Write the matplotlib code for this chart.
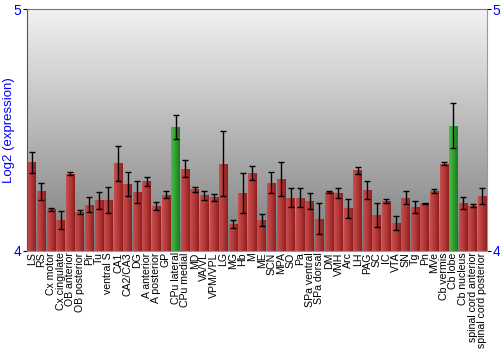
import numpy as np
import matplotlib
matplotlib.use('Agg')
import matplotlib.pyplot as plt
from matplotlib.colors import LinearSegmentedColormap

plt.rcParams['font.family'] = ['Liberation Sans', 'DejaVu Sans']

# Regions along the x axis
regions = ['LS', 'RS', 'Cx motor', 'Cx cingulate', 'OB anterior', 'OB posterior', 'Pir', 'Tu',
           'ventral S', 'CA1', 'CA2/CA3', 'DG', 'A anterior', 'A posterior', 'GP', 'CPu lateral',
           'CPu medial', 'MD', 'VA/VL', 'VPM/VPL', 'LG', 'MG', 'Hb', 'M', 'ME', 'SCN', 'MPA', 'SO',
           'Pa', 'SPa ventral', 'SPa dorsal', 'DM', 'VMH', 'Arc', 'LH', 'PAG', 'SC', 'IC', 'VTA',
           'SN', 'Tg', 'Pn', 'MVe', 'Cb vermis', 'Cb lobe', 'Cb nucleus', 'spinal cord anterior',
           'spinal cord posterior']

# Log2 expression values
values = [4.367, 4.248, 4.173, 4.128, 4.319, 4.161, 4.192, 4.210,
          4.211, 4.363, 4.277, 4.243, 4.289, 4.186, 4.233, 4.513,
          4.341, 4.255, 4.230, 4.222, 4.362, 4.112, 4.240, 4.323,
          4.128, 4.282, 4.298, 4.221, 4.221, 4.207, 4.133, 4.245,
          4.239, 4.177, 4.334, 4.253, 4.149, 4.206, 4.116, 4.221,
          4.182, 4.197, 4.248, 4.362, 4.519, 4.199, 4.188, 4.226]

# Error (half-length of error bar)
errors = [0.043, 0.035, 0.006, 0.039, 0.006, 0.010, 0.032, 0.036,
          0.055, 0.073, 0.049, 0.045, 0.019, 0.017, 0.015, 0.051,
          0.035, 0.011, 0.019, 0.014, 0.134, 0.018, 0.083, 0.028,
          0.026, 0.044, 0.069, 0.041, 0.039, 0.034, 0.064, 0.004,
          0.021, 0.039, 0.015, 0.038, 0.048, 0.009, 0.030, 0.028,
          0.026, 0.003, 0.007, 0.006, 0.094, 0.024, 0.008, 0.033]

highlighted = ['CPu lateral', 'Cb lobe']

ymin, ymax = 4, 5

fig = plt.figure(figsize=(5, 3.5), dpi=100)
ax = fig.add_axes([0.054, 0.283, 0.92, 0.69])

x = np.arange(len(regions))
ax.set_xlim(-0.5, len(regions) - 0.5)
ax.set_ylim(ymin, ymax)

# gray gradient background
bg = LinearSegmentedColormap.from_list('bg', ['#7c7c7c', '#f2f2f2'])
grad = np.linspace(0, 1, 256).reshape(-1, 1)
ax.imshow(grad, cmap=bg, origin='lower', aspect='auto',
          extent=[-0.5, len(regions) - 0.5, ymin, ymax], zorder=0)

red_cm = LinearSegmentedColormap.from_list('red', ['#c65050', '#b43838', '#8e1e1e'])
green_cm = LinearSegmentedColormap.from_list('green', ['#4cbb4c', '#30a030', '#1c7a1c'])
hgrad = np.linspace(0, 1, 64).reshape(1, -1)

bars = ax.bar(x, np.array(values) - ymin, bottom=ymin, width=0.9, color='none',
              edgecolor='none', zorder=2)
for name, b in zip(regions, bars):
    cm = green_cm if name in highlighted else red_cm
    im = ax.imshow(hgrad, cmap=cm, aspect='auto', zorder=2,
                   extent=[b.get_x(), b.get_x() + b.get_width(), ymin, b.get_y() + b.get_height()])
    im.set_clip_path(b)

ax.errorbar(x, values, yerr=errors, fmt='none', ecolor='black', elinewidth=1,
            capsize=2, capthick=1, zorder=3)

ax.set_yticks([4, 5])
ax.set_yticklabels(['4', '5'])
ax.tick_params(axis='y', colors='#000000', labelcolor='blue', labelsize=10,
               length=3, right=True, labelright=True, pad=1)
ax.set_xticks(x)
ax.set_xticklabels(regions, rotation=90, fontsize=7.6)
ax.tick_params(axis='x', length=0, pad=1)

ax.set_ylabel('Log2 (expression)', color='blue', fontsize=9.5)
ax.yaxis.set_label_coords(-0.025, 0.5)

ax.spines['left'].set_color('#555555')
ax.spines['top'].set_color('#777777')
ax.spines['right'].set_color('#999999')
ax.spines['bottom'].set_color('#999999')

fig.savefig('out.png', dpi=100)
